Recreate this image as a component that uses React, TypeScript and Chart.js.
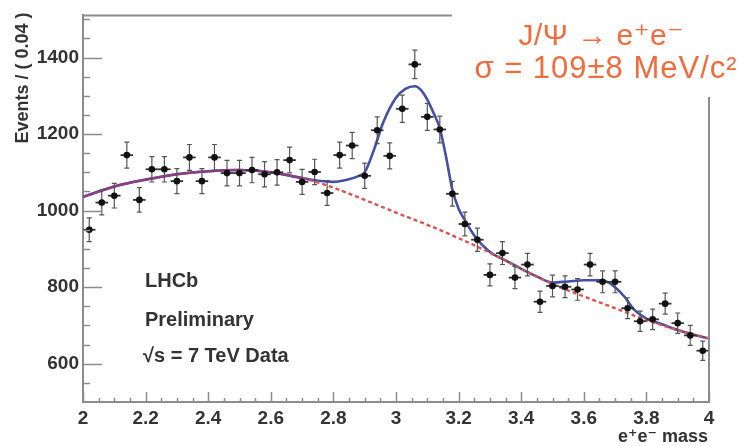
import React, { useEffect, useRef } from "react";
import { Chart, registerables } from "chart.js";

Chart.register(...registerables);

// ---- data ----
const massBins = [
  2.02, 2.06, 2.1, 2.14, 2.18, 2.22, 2.26, 2.3, 2.34, 2.38,
  2.42, 2.46, 2.5, 2.54, 2.58, 2.62, 2.66, 2.7, 2.74, 2.78,
  2.82, 2.86, 2.9, 2.94, 2.98, 3.02, 3.06, 3.1, 3.14, 3.18,
  3.22, 3.26, 3.3, 3.34, 3.38, 3.42, 3.46, 3.5, 3.54, 3.58,
  3.62, 3.66, 3.7, 3.74, 3.78, 3.82, 3.86, 3.9, 3.94, 3.98,
];
const events = [
  950, 1021, 1039, 1145, 1028, 1108, 1108, 1077, 1139, 1077,
  1139, 1098, 1098, 1106, 1095, 1100, 1132, 1075, 1101, 1046,
  1145, 1170, 1091, 1210, 1143, 1266, 1382, 1245, 1212, 1044,
  965, 924, 832, 889, 825, 859, 762, 803, 801, 794,
  859, 814, 814, 745, 711, 716, 757, 706, 674, 634,
];
const binHalfWidth = 0.02;

const bkgX = [2.0, 2.1, 2.2, 2.3, 2.4, 2.5, 2.6, 2.7, 2.8, 2.9, 3.0, 3.1, 3.2, 3.3, 3.4, 3.5, 3.6, 3.7, 3.8, 3.9, 4.0];
const bkgY = [1036, 1063, 1081, 1095, 1103, 1106, 1100, 1085, 1060, 1028, 995, 963, 928, 890, 848, 808, 776, 745, 714, 688, 666];

const totalX = [
  2.0, 2.1, 2.2, 2.3, 2.4, 2.5, 2.6, 2.7, 2.75, 2.8, 2.85, 2.88, 2.9, 2.93, 2.96,
  3.0, 3.03, 3.06, 3.08, 3.1, 3.12, 3.14, 3.16, 3.18, 3.2, 3.22, 3.25, 3.3, 3.35,
  3.4, 3.45, 3.5, 3.55, 3.6, 3.65, 3.68, 3.7, 3.73, 3.76, 3.8, 3.85, 3.9, 3.95, 4.0,
];
const totalY = [
  1036, 1063, 1081, 1095, 1103, 1106, 1100, 1085, 1078, 1075, 1082, 1090, 1100, 1160, 1232,
  1295, 1318, 1325, 1315, 1290, 1255, 1215, 1140, 1055, 1005, 975, 935, 892, 870,
  848, 828, 812, 815, 818, 818, 812, 800, 775, 742, 718, 703, 688, 676, 666,
];

const xTickValues = [2, 2.2, 2.4, 2.6, 2.8, 3, 3.2, 3.4, 3.6, 3.8, 4];
const xTickLabels = ["2", "2.2", "2.4", "2.6", "2.8", "3", "3.2", "3.4", "3.6", "3.8", "4"];
const yTickValues = [600, 800, 1000, 1200, 1400];
const yTickLabels = ["600", "800", "1000", "1200", "1400"];

const yTitle = "Events / ( 0.04 )";
const xTitle = "e\u207Ae\u207B mass";
const infoLines = ["LHCb", "Preliminary", "\u221As = 7 TeV Data"];
const noteLines = ["J/\u03A8 \u2192 e\u207Ae\u207B", "\u03C3 = 109\u00B18 MeV/c\u00B2"];

const FONT = "'Liberation Sans', Arial, 'DejaVu Sans', sans-serif";
const AXIS_GREY = "#8c8c8c";
const TEXT = "#333333";

const decorPlugin = {
  id: "decor",
  afterDatasetDraw(chart: any, args: any) {
    if (args.index !== 1) return;
    const { ctx } = chart;
    const xs = chart.scales.x;
    const ys = chart.scales.y;
    ctx.save();
    massBins.forEach((m, i) => {
      const n = events[i];
      const err = Math.sqrt(n);
      const px = xs.getPixelForValue(m);
      const py = ys.getPixelForValue(n);
      const pTop = ys.getPixelForValue(n + err);
      const pBot = ys.getPixelForValue(n - err);
      ctx.strokeStyle = "#555";
      ctx.lineWidth = 1.2;
      ctx.beginPath();
      ctx.moveTo(px, pTop);
      ctx.lineTo(px, pBot);
      ctx.moveTo(px - 2.5, pTop);
      ctx.lineTo(px + 2.5, pTop);
      ctx.moveTo(px - 2.5, pBot);
      ctx.lineTo(px + 2.5, pBot);
      ctx.stroke();
      ctx.strokeStyle = "#333";
      ctx.lineWidth = 1.8;
      ctx.beginPath();
      ctx.moveTo(xs.getPixelForValue(m - binHalfWidth), py);
      ctx.lineTo(xs.getPixelForValue(m + binHalfWidth), py);
      ctx.stroke();
    });
    ctx.restore();
  },
  afterDraw(chart: any) {
    const { ctx, chartArea } = chart;
    const xs = chart.scales.x;
    const ys = chart.scales.y;
    const { left, right, top, bottom } = chartArea;
    ctx.save();
    ctx.strokeStyle = AXIS_GREY;
    ctx.lineWidth = 2;
    ctx.beginPath();
    ctx.moveTo(left, top);
    ctx.lineTo(right, top);
    ctx.lineTo(right, bottom);
    ctx.stroke();
    ctx.lineWidth = 1.5;
    ctx.beginPath();
    for (let v = 550; v <= 1500; v += 50) {
      const py = Math.round(ys.getPixelForValue(v)) + 0.5;
      const len = v % 200 === 0 ? 19 : 7;
      ctx.moveTo(left, py);
      ctx.lineTo(left + len, py);
    }
    for (let k = 0; k <= 40; k++) {
      const v = 2 + k * 0.05;
      const px = Math.round(xs.getPixelForValue(v)) + 0.5;
      const len = k % 4 === 0 ? 10 : 4;
      ctx.moveTo(px, bottom);
      ctx.lineTo(px, bottom - len);
    }
    ctx.stroke();

    ctx.fillStyle = TEXT;
    ctx.font = `bold 18px ${FONT}`;
    ctx.save();
    ctx.translate(28, 78);
    ctx.rotate(-Math.PI / 2);
    ctx.textAlign = "center";
    ctx.textBaseline = "alphabetic";
    ctx.fillText(yTitle, 0, 0);
    ctx.restore();
    ctx.font = `bold 18px ${FONT}`;
    ctx.textAlign = "right";
    ctx.textBaseline = "alphabetic";
    ctx.fillText(xTitle, 708, 442);

    ctx.font = `bold 20px ${FONT}`;
    ctx.textAlign = "left";
    ctx.fillText(infoLines[0], 145, 287);
    ctx.fillText(infoLines[1], 145, 326);
    ctx.fillText(infoLines[2], 143, 362);

    ctx.fillStyle = "#ffffff";
    ctx.fillRect(452, 0, 746 - 452, 97);
    ctx.fillStyle = "#f26b3c";
    ctx.textAlign = "center";
    ctx.font = `30px ${FONT}`;
    (ctx as any).letterSpacing = "0.5px";
    ctx.fillText(noteLines[0], 601, 45);
    ctx.font = `31px ${FONT}`;
    (ctx as any).letterSpacing = "1px";
    ctx.fillText(noteLines[1], 606, 78);
    ctx.restore();
  },
};

export default function App() {
  const ref = useRef<HTMLCanvasElement>(null);
  useEffect(() => {
    document.body.style.margin = "0";
    const canvas = ref.current!;
    const chart = new Chart(canvas, {
      type: "scatter",
      data: {
        datasets: [
          {
            label: "data",
            data: massBins.map((x, i) => ({ x, y: events[i] })),
            pointRadius: 3.3,
            pointBackgroundColor: "#111",
            pointBorderWidth: 0,
            showLine: false,
            order: 0,
          } as any,
          {
            label: "background",
            type: "line",
            data: bkgX.map((x, i) => ({ x, y: bkgY[i] })),
            borderColor: "#e0524f",
            borderWidth: 2.4,
            pointRadius: 0,
            fill: false,
            cubicInterpolationMode: "monotone",
            segment: {
              borderColor: (c: any) => (c.p0.parsed.x < 2.7 ? "#8e3c84" : "#e0524f"),
              borderDash: (c: any) => (c.p0.parsed.x < 2.7 ? [] : [4, 3]),
            },
            order: 1,
          } as any,
          {
            label: "total",
            type: "line",
            data: totalX.map((x, i) => ({ x, y: totalY[i] })),
            borderColor: "#4350a6",
            borderWidth: 2.6,
            pointRadius: 0,
            fill: false,
            cubicInterpolationMode: "monotone",
            order: 2,
          } as any,
        ],
      },
      options: {
        animation: false,
        responsive: false,
        layout: { padding: { top: 10, right: 37, left: 0, bottom: 0 } },
        plugins: { legend: { display: false }, tooltip: { enabled: false } },
        scales: {
          x: {
            type: "linear",
            min: 2,
            max: 4,
            afterFit: (s: any) => {
              s.height = 44;
            },
            afterBuildTicks: (s: any) => {
              s.ticks = xTickValues.map((v) => ({ value: v }));
            },
            ticks: {
              callback: (_v: any, i: number) => xTickLabels[i],
              font: { family: FONT, size: 19, weight: "bold" },
              color: TEXT,
              padding: 5,
              maxRotation: 0,
              autoSkip: false,
            },
            grid: { display: false, drawTicks: false },
            border: { display: true, color: AXIS_GREY, width: 2 },
          },
          y: {
            type: "linear",
            min: 500,
            max: 1510,
            afterFit: (s: any) => {
              s.width = 83;
            },
            afterBuildTicks: (s: any) => {
              s.ticks = yTickValues.map((v) => ({ value: v }));
            },
            ticks: {
              callback: (_v: any, i: number) => yTickLabels[i],
              font: { family: FONT, size: 19, weight: "bold" },
              color: TEXT,
              padding: 4,
              autoSkip: false,
            },
            grid: { display: false, drawTicks: false },
            border: { display: true, color: AXIS_GREY, width: 2 },
          },
        },
      } as any,
      plugins: [decorPlugin],
    });
    return () => chart.destroy();
  }, []);
  return (
    <div style={{ position: "absolute", left: 0, top: 0, width: 746, height: 446, background: "#fff" }}>
      <canvas ref={ref} width={746} height={446} />
    </div>
  );
}
